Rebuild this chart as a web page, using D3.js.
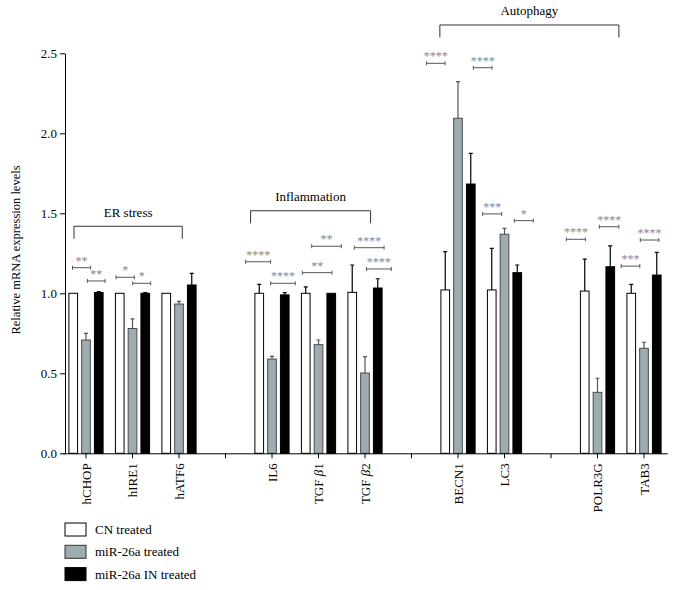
<!doctype html>
<html>
<head>
<meta charset="utf-8">
<title>Relative mRNA expression</title>
<style>
  body { margin: 0; background: #fff; }
  svg text { font-family: "Liberation Serif", "Times New Roman", serif; }
</style>
</head>
<body>
<div id="chart"></div>
<script src="https://d3js.org/d3.v7.min.js"></script>
<script>
// categories (gaps are empty slots on the axis)
var categories = ["hCHOP", "hIRE1", "hATF6", "gap1", "IL6", "TGF β1", "TGF β2", "gap2",
                  "BECN1", "LC3", "gap3", "POLR3G", "TAB3"];
var seriesNames = ["CN treated", "miR-26a treated", "miR-26a IN treated"];

// values (null = gap)
var cnValues  = [1.0, 1.0, 1.0, null, 1.0, 1.0, 1.006, null, 1.021, 1.021, null, 1.014, 1.0];
var cnErrors  = [0, 0, 0, null, 0.056, 0.04, 0.171, null, 0.239, 0.26, null, 0.2, 0.056];
var mirValues = [0.708, 0.78, 0.933, null, 0.589, 0.679, 0.502, null, 2.094, 1.369, null, 0.381, 0.656];
var mirErrors = [0.042, 0.06, 0.017, null, 0.017, 0.029, 0.102, null, 0.229, 0.037, null, 0.088, 0.038];
var inValues  = [1.005, 1.0, 1.052, null, 0.99, 1.0, 1.033, null, 1.683, 1.129, null, 1.166, 1.114];
var inErrors  = [0.005, 0.004, 0.073, null, 0.014, 0.0, 0.058, null, 0.192, 0.048, null, 0.13, 0.142];

var yTicks = [0, 0.5, 1.0, 1.5, 2.0, 2.5];

// significance marks: from/to in category-index units, level in y units
var sigFrom   = [-0.29, 0.03, 0.645, 1.004, 3.434, 3.971, 4.652, 4.854, 5.77, 6.03, 7.32, 8.33, 8.53, 9.21, 10.33, 11.04, 11.51, 11.92];
var sigTo     = [0.10, 0.41, 1.039, 1.391, 3.971, 4.50, 5.29, 5.49, 6.41, 6.565, 7.72, 8.73, 8.94, 9.62, 10.74, 11.46, 11.91, 12.32];
var sigLevel  = [1.16, 1.077, 1.10, 1.0625, 1.197, 1.0625, 1.129, 1.294, 1.285, 1.152, 2.4375, 2.41, 1.496, 1.454, 1.3375, 1.416, 1.17, 1.333];
var sigLabels = ["**", "**", "*", "*", "****", "****", "**", "**", "****", "****", "****", "****", "***", "*", "****", "****", "***", "****"];

// group brackets
var groupNames = ["ER stress", "Inflammation", "Autophagy"];
var groupFrom  = [-0.258, 3.54, 7.61];
var groupTo    = [2.07, 6.12, 11.46];
var groupLevel = [1.419, 1.516, 2.677];

var W = 674, H = 590;
var colors = ["#ffffff", "#9eabb0", "#000000"];
var strokes = ["#000", "#4a4a4a", "#000"];

var svg = d3.select("#chart").append("svg")
    .attr("width", W).attr("height", H);

var x = d3.scaleBand().domain(categories).range([62.75, 667.25]).padding(0);
var xs = d3.scaleBand().domain(seriesNames).range([-17.1, 17.1]).paddingInner(0.32);
var y = d3.scaleLinear().domain([0, 2.5]).range([453.3, 53.3]);
function cx(c) { return x(c) + x.bandwidth() / 2; }
var xi = d3.scaleLinear().domain([0, categories.length - 1])
    .range([cx(categories[0]), cx(categories[categories.length - 1])]);

// bars
var table = [];
var vals = [cnValues, mirValues, inValues], errs = [cnErrors, mirErrors, inErrors];
categories.forEach(function (c, i) {
  seriesNames.forEach(function (s, k) {
    if (vals[k][i] != null) table.push({cat: c, s: s, k: k, v: vals[k][i], e: errs[k][i]});
  });
});

var bars = svg.append("g");
// error bars first (upper only)
bars.selectAll(".err").data(table.filter(function (d) { return d.e > 0.003; })).enter()
  .append("path")
    .attr("d", function (d) {
      var xc = cx(d.cat) + xs(d.s) + xs.bandwidth() / 2;
      return "M" + xc + "," + y(d.v) + "V" + y(d.v + d.e) + "M" + (xc - 2) + "," + y(d.v + d.e) + "H" + (xc + 2);
    })
    .attr("stroke", function (d) { return d.k == 1 ? "#555" : "#000"; })
    .attr("stroke-width", 1.2)
    .attr("fill", "none");

bars.selectAll("rect").data(table).enter().append("rect")
    .attr("x", function (d) { return cx(d.cat) + xs(d.s); })
    .attr("y", function (d) { return y(d.v); })
    .attr("width", xs.bandwidth())
    .attr("height", function (d) { return y(0) - y(d.v); })
    .attr("fill", function (d) { return colors[d.k]; })
    .attr("stroke", function (d) { return strokes[d.k]; })
    .attr("stroke-width", 1);

// axes
var xAxis = svg.append("g")
    .attr("transform", "translate(0," + y(0) + ")")
    .call(d3.axisBottom(x).tickSize(5).tickSizeOuter(0)
      .tickFormat(function (d) { return d.indexOf("gap") == 0 ? "" : d; }));
xAxis.selectAll("text")
    .attr("transform", "rotate(-90)")
    .attr("x", -10).attr("y", 0).attr("dy", "0.35em")
    .attr("text-anchor", "end")
    .attr("font-size", 13)
    .attr("fill", "#000")
    .each(function (d) {
      if (d.indexOf("TGF") == 0) {
        var t = d3.select(this).text("");
        t.append("tspan").text("TGF ");
        t.append("tspan").attr("font-style", "italic").text("β");
        t.append("tspan").text(d.slice(-1));
      }
    });
xAxis.selectAll("line, path").attr("stroke", "#000");

var yAxis = svg.append("g")
    .attr("transform", "translate(65,0)")
    .call(d3.axisLeft(y).tickValues(yTicks).tickFormat(d3.format(".1f")).tickSize(5).tickSizeOuter(0));
yAxis.selectAll("text").attr("font-size", 13).attr("fill", "#000");
yAxis.selectAll("line, path").attr("stroke", "#000");

svg.append("text")
    .attr("transform", "translate(20,250) rotate(-90)")
    .attr("text-anchor", "middle")
    .attr("font-size", 12.5)
    .text("Relative mRNA expression levels");

// significance brackets
var sig = svg.append("g");
sigLabels.forEach(function (lab, i) {
  var x0 = xi(sigFrom[i]), x1 = xi(sigTo[i]), yy = y(sigLevel[i]);
  sig.append("path")
      .attr("d", "M" + x0 + "," + yy + "H" + x1 + "M" + x0 + "," + (yy - 2) + "V" + (yy + 2) + "M" + x1 + "," + (yy - 2) + "V" + (yy + 2))
      .attr("stroke", "#555").attr("stroke-width", 1).attr("fill", "none");
  sig.append("text")
      .attr("x", (x0 + x1) / 2).attr("y", yy - 3)
      .attr("text-anchor", "middle")
      .attr("font-size", 12)
      .attr("fill", "#888")
      .text(lab);
});

// group brackets
groupNames.forEach(function (g, i) {
  var x0 = xi(groupFrom[i]), x1 = xi(groupTo[i]), yy = y(groupLevel[i]);
  svg.append("path")
      .attr("d", "M" + x0 + "," + (yy + 12.5) + "V" + yy + "H" + x1 + "V" + (yy + 12.5))
      .attr("stroke", "#333").attr("stroke-width", 1).attr("fill", "none");
  svg.append("text")
      .attr("x", (x0 + x1) / 2).attr("y", yy - 9.5)
      .attr("text-anchor", "middle")
      .attr("font-size", 13)
      .text(g);
});

// legend
var legend = svg.append("g").attr("transform", "translate(65,523)");
seriesNames.forEach(function (s, k) {
  var row = legend.append("g").attr("transform", "translate(0," + (k * 22.3) + ")");
  row.append("rect").attr("width", 21).attr("height", 13)
      .attr("fill", colors[k]).attr("stroke", strokes[k] == "#000" ? "#000" : "#333");
  row.append("text").attr("x", 30).attr("y", 11).attr("font-size", 13).text(s);
});
</script>
</body>
</html>
